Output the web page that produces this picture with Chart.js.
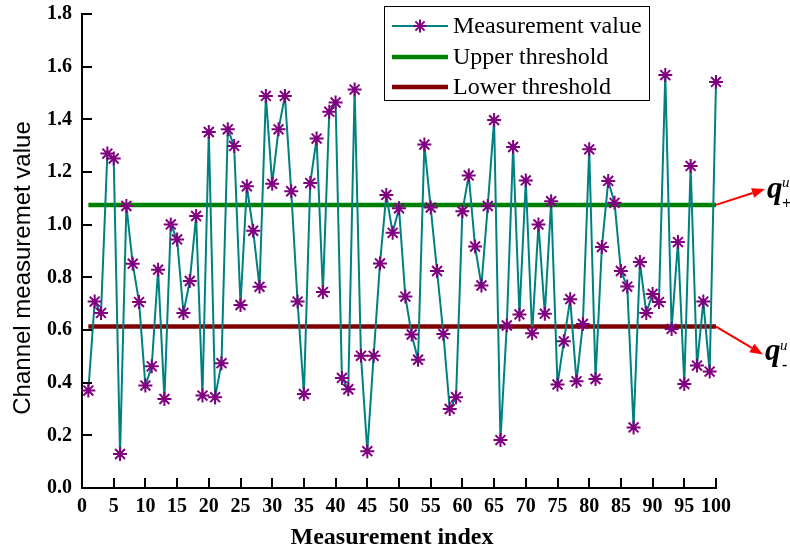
<!DOCTYPE html>
<html><head><meta charset="utf-8">
<script src="https://cdn.jsdelivr.net/npm/chart.js@4/dist/chart.umd.min.js"></script>
<style>html,body{margin:0;padding:0;background:#fff;}#wrap{width:790px;height:553px;position:relative;}</style>
</head><body><div id="wrap"><canvas id="c" width="790" height="553"></canvas></div>
<script>
const indices = [1,2,3,4,5,6,7,8,9,10,11,12,13,14,15,16,17,18,19,20,21,22,23,24,25,26,27,28,29,30,31,32,33,34,35,36,37,38,39,40,41,42,43,44,45,46,47,48,49,50,51,52,53,54,55,56,57,58,59,60,61,62,63,64,65,66,67,68,69,70,71,72,73,74,75,76,77,78,79,80,81,82,83,84,85,86,87,88,89,90,91,92,93,94,95,96,97,98,99,100];
const values = [
0.370, 0.708, 0.665, 1.270, 1.251, 0.129, 1.071, 0.852, 0.706, 0.389,
0.462, 0.829, 0.338, 1.001, 0.944, 0.665, 0.786, 1.033, 0.351, 1.352,
0.345, 0.474, 1.362, 1.299, 0.695, 1.146, 0.977, 0.764, 1.489, 1.155,
1.362, 1.489, 1.127, 0.708, 0.357, 1.158, 1.327, 0.744, 1.429, 1.464,
0.418, 0.375, 1.513, 0.502, 0.140, 0.502, 0.853, 1.113, 0.969, 1.062,
0.727, 0.583, 0.487, 1.304, 1.065, 0.824, 0.585, 0.300, 0.345, 1.051,
1.187, 0.917, 0.769, 1.071, 1.397, 0.182, 0.617, 1.295, 0.659, 1.168,
0.588, 1.001, 0.662, 1.089, 0.393, 0.557, 0.717, 0.405, 0.623, 1.286,
0.414, 0.915, 1.166, 1.083, 0.824, 0.765, 0.230, 0.858, 0.665, 0.737,
0.706, 1.568, 0.604, 0.934, 0.395, 1.223, 0.465, 0.708, 0.442, 1.542];
const thresholdX = [1, 100];
const upperThreshold = [1.075, 1.075];
const lowerThreshold = [0.613, 0.613];
const xTicks = [0,5,10,15,20,25,30,35,40,45,50,55,60,65,70,75,80,85,90,95,100];
const yTicks = [0,0.2,0.4,0.6,0.8,1.0,1.2,1.4,1.6,1.8];
const seriesNames = ['Measurement value', 'Upper threshold', 'Lower threshold'];
const xTitle = 'Measurement index';
const yTitle = 'Channel measuremet value';

const TEAL = '#008080', PURPLE = '#800080', GREEN = '#008000', DRED = '#800000';
const SERIF = "'Liberation Serif', 'Times New Roman', serif";
const SANS = "'Liberation Sans', Arial, sans-serif";

function arrow(ctx, x1, y1, x2, y2) {
  const ang = Math.atan2(y2 - y1, x2 - x1);
  const L = 13, W = 5;
  const bx = x2 - L * Math.cos(ang), by = y2 - L * Math.sin(ang);
  ctx.strokeStyle = '#ff0000'; ctx.fillStyle = '#ff0000'; ctx.lineWidth = 2;
  ctx.beginPath(); ctx.moveTo(x1, y1); ctx.lineTo(bx, by); ctx.stroke();
  ctx.beginPath();
  ctx.moveTo(x2, y2);
  ctx.lineTo(bx + W * Math.sin(ang), by - W * Math.cos(ang));
  ctx.lineTo(bx - W * Math.sin(ang), by + W * Math.cos(ang));
  ctx.closePath(); ctx.fill();
}

const decor = {
  id: 'decor',
  afterDraw(chart) {
    const ctx = chart.ctx, xs = chart.scales.x, ys = chart.scales.y, ca = chart.chartArea;
    ctx.save();
    // inward ticks
    ctx.strokeStyle = '#000'; ctx.lineWidth = 2;
    yTicks.forEach(v => {
      const y = Math.round(ys.getPixelForValue(v));
      ctx.beginPath(); ctx.moveTo(ca.left, y); ctx.lineTo(ca.left + 10, y); ctx.stroke();
    });
    xTicks.forEach(v => {
      const x = Math.round(xs.getPixelForValue(v));
      ctx.beginPath(); ctx.moveTo(x, ca.bottom); ctx.lineTo(x, ca.bottom - 10); ctx.stroke();
    });
    // axis titles
    ctx.fillStyle = '#000';
    ctx.font = 'bold 24px ' + SERIF;
    ctx.textAlign = 'center'; ctx.textBaseline = 'middle';
    ctx.fillText(xTitle, 392, 538);
    ctx.save();
    ctx.translate(23, 268); ctx.rotate(-Math.PI / 2);
    ctx.font = '24px ' + SANS;
    ctx.fillText(yTitle, 0, 0);
    ctx.restore();
    // legend
    ctx.fillStyle = '#fff';
    ctx.fillRect(385, 7, 264, 93);
    ctx.strokeStyle = '#000'; ctx.lineWidth = 1;
    ctx.strokeRect(384.5, 6.5, 265, 94);
    const rows = [26, 57, 87];
    const cols = [TEAL, GREEN, DRED];
    const widths = [2, 4.5, 4.5];
    rows.forEach((ry, i) => {
      ctx.strokeStyle = cols[i]; ctx.lineWidth = widths[i];
      ctx.beginPath(); ctx.moveTo(392, ry); ctx.lineTo(448, ry); ctx.stroke();
      if (i === 0) {
        ctx.strokeStyle = PURPLE; ctx.lineWidth = 2;
        const r = 6.5, cx = 420;
        ctx.beginPath();
        ctx.moveTo(cx - r, ry); ctx.lineTo(cx + r, ry);
        ctx.moveTo(cx, ry - r); ctx.lineTo(cx, ry + r);
        const d = r * Math.SQRT1_2;
        ctx.moveTo(cx - d, ry - d); ctx.lineTo(cx + d, ry + d);
        ctx.moveTo(cx - d, ry + d); ctx.lineTo(cx + d, ry - d);
        ctx.stroke();
      }
      ctx.fillStyle = '#000';
      ctx.font = '24px ' + SERIF;
      ctx.textAlign = 'left'; ctx.textBaseline = 'middle';
      ctx.fillText(seriesNames[i], 453, ry + 1);
    });
    // arrows and labels
    const xEnd = xs.getPixelForValue(thresholdX[1]);
    const yU = ys.getPixelForValue(upperThreshold[1]);
    const yL = ys.getPixelForValue(lowerThreshold[1]);
    arrow(ctx, xEnd, yU, 765, yU - 16);
    arrow(ctx, xEnd, yL, 763, yL + 28);
    ctx.fillStyle = '#000';
    ctx.textAlign = 'left'; ctx.textBaseline = 'alphabetic';
    ctx.font = 'italic bold 31px ' + SERIF;
    ctx.fillText('q', 767, 198);
    ctx.fillText('q', 765, 360);
    ctx.font = 'italic 15px ' + SERIF;
    ctx.fillText('u', 782, 187);
    ctx.fillText('u', 780, 350);
    ctx.font = 'bold 16px ' + SERIF;
    ctx.fillText('+', 782, 209);
    ctx.fillText('-', 782, 370);
    ctx.restore();
  }
};

new Chart(document.getElementById('c'), {
  type: 'line',
  data: {
    datasets: [
      {
        label: seriesNames[0],
        data: indices.map((x, i) => ({ x: x, y: values[i] })),
        borderColor: TEAL, borderWidth: 2, tension: 0,
        pointStyle: 'star', pointRadius: 7, pointBorderColor: PURPLE,
        pointBackgroundColor: PURPLE, pointBorderWidth: 2,
        clip: false, order: 0
      },
      {
        label: seriesNames[1],
        data: thresholdX.map((x, i) => ({ x: x, y: upperThreshold[i] })),
        borderColor: GREEN, borderWidth: 4.5, pointRadius: 0, order: 1
      },
      {
        label: seriesNames[2],
        data: thresholdX.map((x, i) => ({ x: x, y: lowerThreshold[i] })),
        borderColor: DRED, borderWidth: 4.5, pointRadius: 0, order: 1
      }
    ]
  },
  options: {
    responsive: false, animation: false, devicePixelRatio: 1,
    layout: { padding: { top: 14, right: 74, left: 0, bottom: 0 } },
    plugins: { legend: { display: false }, tooltip: { enabled: false }, title: { display: false } },
    scales: {
      x: {
        type: 'linear', min: 0, max: 100,
        afterBuildTicks: s => { s.ticks = xTicks.map(v => ({ value: v })); },
        afterFit: s => { s.height = 65; s.paddingLeft = 0; s.paddingRight = 0; },
        grid: { display: false, drawTicks: false },
        border: { display: true, color: '#000', width: 2 },
        ticks: { autoSkip: false, maxRotation: 0, minRotation: 0, padding: 7, color: '#000',
          font: { family: SERIF, size: 20, weight: 'bold' }, callback: v => String(v) }
      },
      y: {
        type: 'linear', min: 0, max: 1.8,
        afterBuildTicks: s => { s.ticks = yTicks.map(v => ({ value: v })); },
        afterFit: s => { s.width = 82; s.paddingTop = 0; s.paddingBottom = 0; },
        grid: { display: false, drawTicks: false },
        border: { display: true, color: '#000', width: 2 },
        ticks: { padding: 10, color: '#000', font: { family: SERIF, size: 20, weight: 'bold' },
          callback: v => Number(v).toFixed(1) }
      }
    }
  },
  plugins: [decor]
});
</script></body></html>
